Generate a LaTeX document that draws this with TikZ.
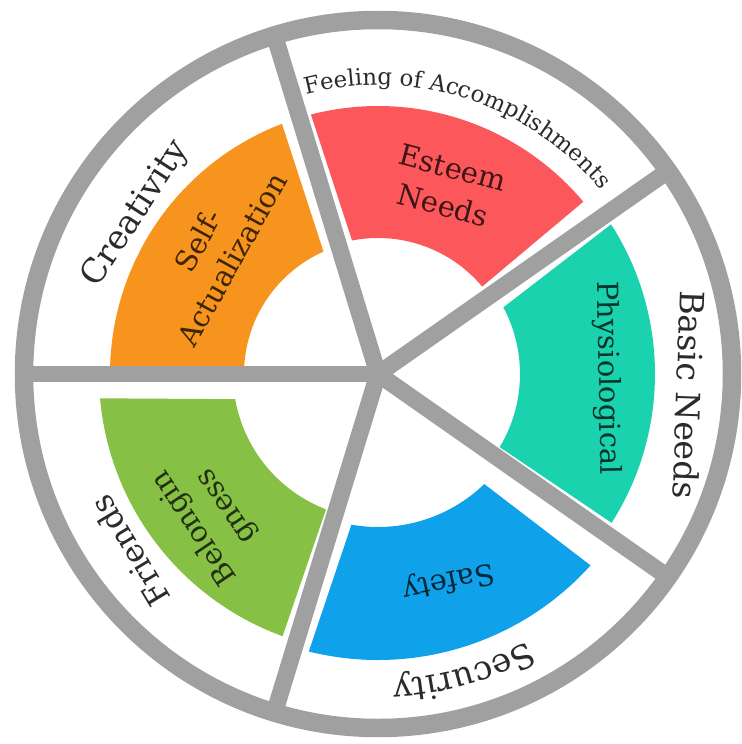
\documentclass[tikz,border=0pt]{standalone}
\usepackage{fontspec}
\setmainfont{DejaVu Serif}
\usetikzlibrary{decorations.text}

\definecolor{wheelgray}{HTML}{A0A0A0}
\definecolor{outertext}{HTML}{2B2B2B}
\definecolor{selfcol}{HTML}{F7941D}
\definecolor{esteemcol}{HTML}{FC585C}
\definecolor{physiocol}{HTML}{1BD2AF}
\definecolor{safetycol}{HTML}{0FA1EA}
\definecolor{belongcol}{HTML}{86C145}

\begin{document}
\begin{tikzpicture}[
    x=0.02cm, y=0.02cm,
    ringstyle/.style={draw=wheelgray, line width=0.37cm},
    spokestyle/.style={draw=wheelgray, line width=0.34cm},
    outerlabel/.style={text=outertext, font=\fontsize{19}{22}\selectfont},
    innerlabel/.style={align=center, font=\fontsize{16.5}{22}\selectfont}
]
    \useasboundingbox[fill=white] (-378,-370) rectangle (364,374);
    \coordinate (hub) at (0,0);

    % coloured bands
    \fill[selfcol] (114:134) -- (111:268) arc[start angle=111, end angle=178.5, radius=268]
        -- (177:134) arc[start angle=177, end angle=114, radius=134] -- cycle;
    \fill[esteemcol] (101:136) -- (104.5:268) arc[start angle=104.5, end angle=40, radius=268]
        -- (40:136) arc[start angle=40, end angle=101, radius=136] -- cycle;
    \fill[physiocol] (28:142) -- (32.7:277) arc[start angle=32.7, end angle=-32.5, radius=277]
        -- (-31:142) arc[start angle=-31, end angle=28, radius=142] -- cycle;
    \fill[safetycol] (-46:153) -- (-42:286) arc[start angle=-42, end angle=-104, radius=286]
        -- (-100:153) arc[start angle=-100, end angle=-46, radius=153] -- cycle;
    \fill[belongcol] (190:145) -- (185:279) arc[start angle=185, end angle=250, radius=279]
        -- (249:145) arc[start angle=249, end angle=190, radius=145] -- cycle;

    % spokes and rim
    \foreach \a in {180,107,35,-35,-107}
        \draw[spokestyle] (hub) -- (\a:354);
    \draw[ringstyle] (hub) circle[radius=354];

    % band labels
    \node[innerlabel, rotate=61, text=selfcol!25!black] (selfact) at (142.7:205) {Self-\\Actualization};
    \node[innerlabel, rotate=-15, text=esteemcol!25!black] (esteem) at (69.6:200) {Esteem\\Needs};
    \node[innerlabel, rotate=-89, text=physiocol!25!black] (physio) at (-1:229) {Physiological};
    \node[innerlabel, rotate=192, text=safetycol!25!black] (safety) at (-71.2:218) {Safety};
    \node[innerlabel, rotate=124, text=belongcol!25!black] (belong) at (220.5:220) {Belongin\\gness};

    % rim labels
    \node[outerlabel, rotate=57] (creativity) at (146.5:290) {Creativity};
    \node[outerlabel, rotate=-92] (basic) at (-3.9:312) {Basic Needs};
    \node[outerlabel, rotate=121, font=\fontsize{18}{21}\selectfont] (friends) at (215.5:305) {Friends};
    \path[decorate, decoration={text along path, text align=center,
        text={|\fontsize{13}{15}\selectfont\color{outertext}|Feeling of Accomplishments}}]
        (107:289) arc[start angle=107, end angle=37, radius=289];
    \path[decorate, decoration={text along path, text align=center,
        text={|\fontsize{19}{22}\selectfont\color{outertext}|Security}}]
        (-38:306) arc[start angle=-38, end angle=-110, radius=306];
\end{tikzpicture}
\end{document}
